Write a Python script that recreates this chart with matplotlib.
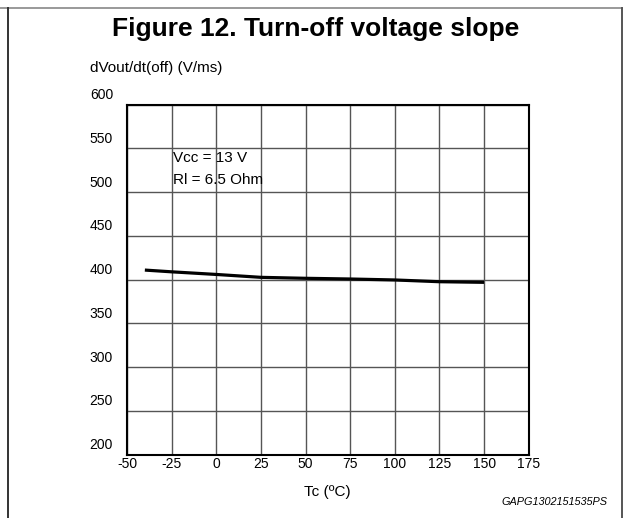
import matplotlib
matplotlib.use('Agg')
import matplotlib.pyplot as plt
import matplotlib.transforms as mtransforms
from matplotlib.lines import Line2D

plt.rcParams['font.family'] = ['Liberation Sans', 'DejaVu Sans']

# data
tc = [-40, -25, 0, 25, 50, 75, 100, 125, 150]
dv_off = [411, 409, 406, 402.7, 401.6, 400.8, 399.7, 397.7, 397.0]

x_ticks = [-50, -25, 0, 25, 50, 75, 100, 125, 150, 175]
y_ticks = [200, 250, 300, 350, 400, 450, 500, 550, 600]

W, H = 623, 518
fig = plt.figure(figsize=(W / 100, H / 100), dpi=100)
ax = fig.add_axes([127 / W, 1 - 454.7 / H, 401.7 / W, 350 / H])

ax.plot(tc, dv_off, color='black', lw=2.3, solid_capstyle='butt')

ax.set_xlim(-50, 175)
ax.set_ylim(200, 600)
ax.set_xticks(x_ticks)
ax.set_yticks(y_ticks)
ax.set_xticklabels([str(v) for v in x_ticks])
ax.set_yticklabels([str(v) for v in y_ticks])
ax.tick_params(length=0, labelsize=10, pad=2)
ax.tick_params(axis='y', pad=10)
ax.grid(True, color='#555555', lw=1.0)
ax.set_axisbelow(True)
for s in ax.spines.values():
    s.set_linewidth(1.5)
    s.set_color('black')

# the y labels sit above their grid lines in the original
shift = mtransforms.ScaledTranslation(0, 11 / 100, fig.dpi_scale_trans)
for lab in ax.get_yticklabels():
    lab.set_transform(lab.get_transform() + shift)

fig.text(173 / W, 1 - 158 / H, 'Vcc = 13 V', fontsize=11, va='center', ha='left')
fig.text(173 / W, 1 - 180 / H, 'Rl = 6.5 Ohm', fontsize=11, va='center', ha='left')

fig.text(316 / W, 1 - 36 / H, 'Figure 12. Turn-off voltage slope', fontsize=19,
         fontweight='bold', ha='center', va='baseline')
fig.text(90 / W, 1 - 72 / H, 'dVout/dt(off) (V/ms)', fontsize=11,
         ha='left', va='baseline')
fig.text(327 / W, 1 - 492 / H, 'Tc (ºC)', fontsize=11, ha='center', va='center')
fig.text(607 / W, 1 - 502 / H, 'GAPG1302151535PS', fontsize=7.8, style='italic',
         ha='right', va='center')

# page frame lines
fig.add_artist(Line2D([0, 1], [1 - 8.3 / H, 1 - 8.3 / H], color='#888888', lw=1.2))
fig.add_artist(Line2D([8.3 / W, 8.3 / W], [0, 1 - 8.3 / H], color='#333333', lw=1.4))
fig.add_artist(Line2D([622 / W, 622 / W], [0, 1 - 8.3 / H], color='#555555', lw=1.4))

fig.savefig('out.png', dpi=100)
